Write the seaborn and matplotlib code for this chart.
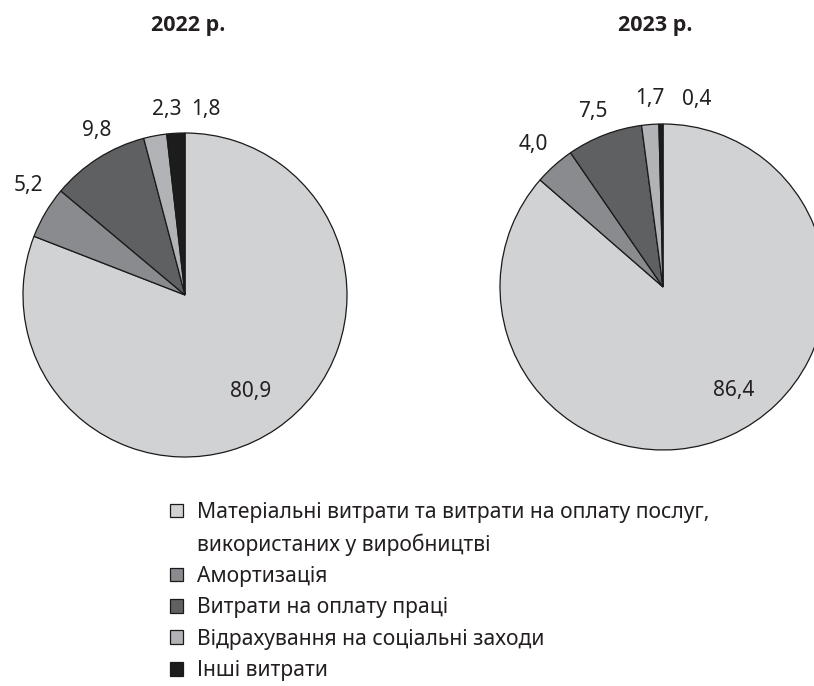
import numpy as np
import matplotlib
matplotlib.use("Agg")
import matplotlib.pyplot as plt
from matplotlib.patches import Patch
import seaborn as sns

# ── Data ──────────────────────────────────────────────────────────────────────
YEARS = ["2022 р.", "2023 р."]
CATEGORIES = [
    "Матеріальні витрати та витрати на оплату послуг,",
    "Амортизація",
    "Витрати на оплату праці",
    "Відрахування на соціальні заходи",
    "Інші витрати",
]
CATEGORY_CONT = "використаних у виробництві"   # second line of the first entry
SHARE_2022 = [80.9, 5.2, 9.8, 2.3, 1.8]
SHARE_2023 = [86.4, 4.0, 7.5, 1.7, 0.4]
COLORS = ["#d1d2d4", "#8a8b8e", "#5f6062", "#b1b3b6", "#1c1c1c"]

# ── Style ─────────────────────────────────────────────────────────────────────
sns.set_theme(style="white")
plt.rcParams["font.family"] = ["Noto Sans", "DejaVu Sans"]
TXT = "#231f20"

fig = plt.figure(figsize=(8.14, 6.86), dpi=100, facecolor="white")

# axes placed so that the pies sit where the reference has them
ax1 = fig.add_axes([23 / 814, (686 - 457) / 686, 324 / 814, 324 / 686])
ax2 = fig.add_axes([500 / 814, (686 - 450) / 686, 326 / 814, 326 / 686])

# label placement: radius (in pie radii) and small angle nudge (deg)
LABEL_R = {0: [0.72, 1.18, 1.15, 1.15, 1.15], 1: [0.77, 1.18, 1.16, 1.16, 1.17]}
LABEL_DA = {0: [0, -4.4, -4.2, -5.0, -9.6], 1: [9.8, 0.5, 0.7, -0.5, -11]}

for i, (ax, vals) in enumerate([(ax1, SHARE_2022), (ax2, SHARE_2023)]):
    wedges, _ = ax.pie(
        vals,
        colors=COLORS,
        startangle=90,
        counterclock=False,
        wedgeprops={"edgecolor": "#1a1a1a", "linewidth": 0.9},
    )
    ax.set_aspect("equal")
    ax.set_xlim(-1, 1)
    ax.set_ylim(-1, 1)
    ax.axis("off")
    for j, w in enumerate(wedges):
        ang = np.deg2rad((w.theta1 + w.theta2) / 2 + LABEL_DA[i][j])
        r = LABEL_R[i][j]
        txt = f"{vals[j]:.1f}".replace(".", ",")
        ax.text(r * np.cos(ang), r * np.sin(ang), txt, ha="center", va="center",
                fontsize=15, color=TXT, clip_on=False)
    if i == 0:
        handles = list(wedges)

TITLE_FONT = ["Open Sans", "Noto Sans", "DejaVu Sans"]
fig.text(188 / 814, 1 - 26 / 686, YEARS[0], ha="center", va="center",
         fontsize=15.5, fontweight="bold", color=TXT, family=TITLE_FONT)
fig.text(655 / 814, 1 - 26 / 686, YEARS[1], ha="center", va="center",
         fontsize=15.5, fontweight="bold", color=TXT, family=TITLE_FONT)

# legend: first entry wraps to a second line with no marker
blank = Patch(facecolor="none", edgecolor="none")
leg_handles = [handles[0], blank] + handles[1:]
leg_labels = [CATEGORIES[0], CATEGORY_CONT] + CATEGORIES[1:]

leg = fig.legend(
    leg_handles, leg_labels,
    loc="upper left",
    bbox_to_anchor=(170 / 814, 1 - 502 / 686),
    frameon=False,
    fontsize=15.2,
    handlelength=0.62,
    handleheight=0.62,
    handletextpad=0.65,
    labelspacing=0.49,
    borderaxespad=0,
    borderpad=0,
)
for t in leg.get_texts():
    t.set_color(TXT)

fig.savefig("out.png", dpi=100, facecolor="white")
